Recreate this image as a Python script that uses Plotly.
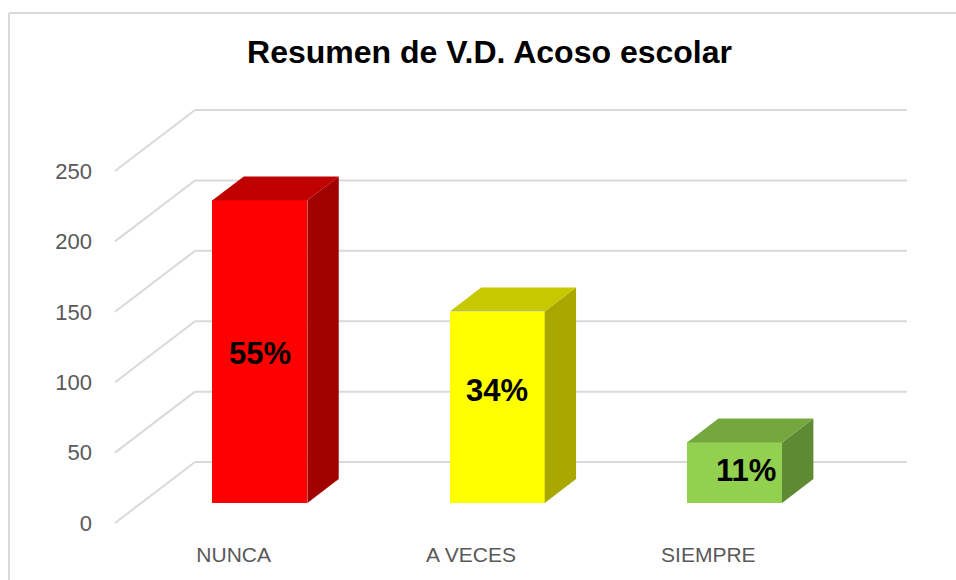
import plotly.graph_objects as go

# ---- data ----
categories = ["NUNCA", "A VECES", "SIEMPRE"]
values = [215, 136, 43]
pct_labels = ["55%", "34%", "11%"]
front_colors = ["#FF0000", "#FFFF00", "#92D050"]
top_colors = ["#C00000", "#C8C800", "#74A83E"]
side_colors = ["#A00000", "#A8A800", "#5E8A34"]
y_ticks = [0, 50, 100, 150, 200, 250]

# ---- 3D geometry (styling) ----
DX = 0.3371      # full floor depth in x units
DY = 43.3        # full floor depth in y units
F1, F2 = 0.328, 0.72   # bar depth span (fraction of floor depth)
BW = 0.4         # bar width (x units)
X0, X1 = -0.5, len(categories) - 0.5
GRID = "#D9D9D9"
W, H = 956, 580

fig = go.Figure()

shapes = []
# back wall gridlines + left wall diagonals
for t in y_ticks:
    shapes.append(dict(type="line", xref="x", yref="y", layer="below",
                       x0=X0 + DX, y0=t + DY, x1=X1 + DX, y1=t + DY,
                       line=dict(color=GRID, width=2)))
    shapes.append(dict(type="line", xref="x", yref="y", layer="below",
                       x0=X0, y0=t, x1=X0 + DX, y1=t + DY,
                       line=dict(color=GRID, width=2)))

# outer chart border (left and top edges visible)
bx = (9 - 110) / 805
by = (530 - 13) / 430
shapes.append(dict(type="line", xref="paper", yref="paper", layer="below",
                   x0=bx, y0=-0.3, x1=bx, y1=by, line=dict(color=GRID, width=2)))
shapes.append(dict(type="line", xref="paper", yref="paper", layer="below",
                   x0=bx, y0=by, x1=1.3, y1=by, line=dict(color=GRID, width=2)))

xs = list(range(len(categories)))
for i, (c, v) in enumerate(zip(xs, values)):
    xl, xr = c - BW / 2, c + BW / 2
    # side face
    fig.add_trace(go.Scatter(
        x=[xr + F1 * DX, xr + F2 * DX, xr + F2 * DX, xr + F1 * DX, xr + F1 * DX],
        y=[F1 * DY, F2 * DY, v + F2 * DY, v + F1 * DY, F1 * DY],
        fill="toself", fillcolor=side_colors[i], mode="lines",
        line=dict(width=0, color=side_colors[i]), hoverinfo="skip", showlegend=False))
    # top face
    fig.add_trace(go.Scatter(
        x=[xl + F1 * DX, xr + F1 * DX, xr + F2 * DX, xl + F2 * DX, xl + F1 * DX],
        y=[v + F1 * DY, v + F1 * DY, v + F2 * DY, v + F2 * DY, v + F1 * DY],
        fill="toself", fillcolor=top_colors[i], mode="lines",
        line=dict(width=0, color=top_colors[i]), hoverinfo="skip", showlegend=False))

# front faces
fig.add_trace(go.Bar(
    x=[c + F1 * DX for c in xs], y=values, base=[F1 * DY] * len(values),
    width=BW, marker=dict(color=front_colors, line=dict(width=0)),
    showlegend=False, hoverinfo="skip"))

# percentage labels
shifts = [(0, -2), (0, 17), (11, 2)]
annotations = []
for i, (c, v) in enumerate(zip(xs, values)):
    annotations.append(dict(
        x=c + F1 * DX, y=F1 * DY + v / 2, xref="x", yref="y",
        text="<b>" + pct_labels[i] + "</b>", showarrow=False,
        xshift=shifts[i][0], yshift=shifts[i][1],
        font=dict(family="Liberation Sans, Arial, sans-serif", size=31, color="#000000"),
        xanchor="center", yanchor="middle"))

fig.update_layout(
    width=W, height=H,
    margin=dict(l=110, r=41, t=100, b=50),
    paper_bgcolor="white", plot_bgcolor="white",
    shapes=shapes, annotations=annotations,
    title=dict(text="<b>Resumen de V.D. Acoso escolar</b>",
               x=489.5 / W, xref="container", xanchor="center",
               y=1 - 52 / H, yref="container", yanchor="middle",
               font=dict(family="Liberation Sans, Arial, sans-serif", size=32, color="#000000")),
    bargap=0,
)
fig.update_xaxes(range=[-0.5 - 5 / 237.33, -0.5 + 800 / 237.33],
                 tickmode="array", tickvals=xs, ticktext=categories,
                 showgrid=False, zeroline=False, showline=False, ticks="",
                 ticklabelstandoff=10,
                 tickfont=dict(family="Liberation Sans, Arial, sans-serif",
                               size=21, color="#595959"))
fig.update_yaxes(range=[-7 / 1.408, 423 / 1.408],
                 tickmode="array", tickvals=y_ticks,
                 showgrid=False, zeroline=False, showline=False, ticks="",
                 ticklabelstandoff=17,
                 tickfont=dict(family="Liberation Sans, Arial, sans-serif",
                               size=22, color="#595959"))

fig.write_html("out.html",
               config={"displayModeBar": False},
               post_script="document.body.style.margin='0';"
                           "document.body.style.overflow='hidden';"
                           "document.documentElement.style.overflow='hidden';")
